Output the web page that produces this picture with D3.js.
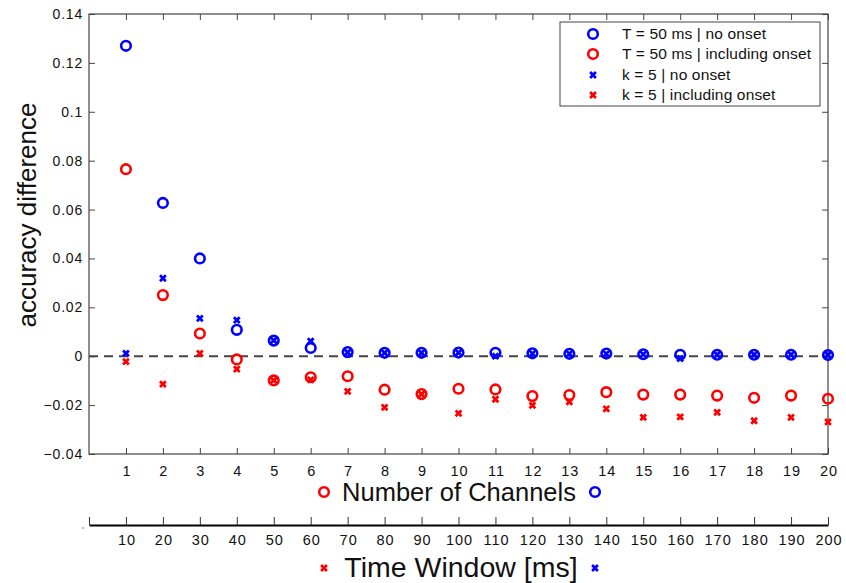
<!DOCTYPE html>
<html><head><meta charset="utf-8">
<script src="https://cdn.jsdelivr.net/npm/d3@7"></script>
<style>body{margin:0;background:#fff}svg{display:block;font-family:"Liberation Sans",Arial,sans-serif}</style>
</head><body>
<svg id="c" width="846" height="583"></svg>
<script>
const channels = d3.range(1, 21);
const timeWindows = [10,20,30,40,50,60,70,80,90,100,110,120,130,140,150,160,170,180,190,200];
const yTicks = [-0.04,-0.02,0,0.02,0.04,0.06,0.08,0.1,0.12,0.14];
const tNoOnset = [0.127,0.0627,0.0400,0.0108,0.0064,0.0034,0.0017,0.0014,0.0014,0.0015,0.0014,0.0012,0.0010,0.0011,0.0008,0.0006,0.0006,0.0006,0.0006,0.0005];
const tOnset = [0.0765,0.0250,0.0093,-0.0013,-0.0099,-0.0086,-0.0082,-0.0137,-0.0155,-0.0133,-0.0136,-0.0163,-0.0159,-0.0147,-0.0157,-0.0157,-0.0161,-0.0170,-0.0161,-0.0174];
const kNoOnset = [0.0012,0.0319,0.0155,0.0148,0.0065,0.0062,0.0016,0.0014,0.0014,0.0015,0.0000,0.0011,0.0010,0.0010,0.0008,-0.0010,0.0006,0.0006,0.0006,0.0005];
const kOnset = [-0.0022,-0.0114,0.0012,-0.0053,-0.0099,-0.0097,-0.0144,-0.0209,-0.0155,-0.0234,-0.0176,-0.0201,-0.0187,-0.0215,-0.0250,-0.0248,-0.0230,-0.0264,-0.0250,-0.0269];
const legendLabels = ["T = 50 ms | no onset","T = 50 ms | including onset","k = 5 | no onset","k = 5 | including onset"];

const svg = d3.select("#c");
const L = 89, R = 828, T = 14, B = 454;
const x = d3.scaleLinear().domain([0,20]).range([L,R]);
const y = d3.scaleLinear().domain([-0.04,0.14]).range([B,T]);
const x2 = d3.scaleLinear().domain([0,200]).range([L,R]);
const axisCol = "#444";

svg.append("rect").attr("x",L).attr("y",T).attr("width",R-L).attr("height",B-T)
  .attr("fill","none").attr("stroke",axisCol).attr("stroke-width",1.2);

svg.append("line").attr("x1",L).attr("x2",R).attr("y1",y(0)).attr("y2",y(0))
  .attr("stroke","#444").attr("stroke-width",2).attr("stroke-dasharray","9,6");

function styleAxis(g){ g.select(".domain").remove(); g.selectAll(".tick line").attr("stroke",axisCol);
  g.selectAll("text").attr("fill","#111"); }

svg.append("g").attr("transform",`translate(0,${B})`)
  .call(d3.axisBottom(x).tickValues(channels).tickFormat(d3.format("d")).tickSizeInner(-6).tickSizeOuter(0).tickPadding(12))
  .call(styleAxis).call(g=>g.selectAll("text").attr("font-size",14.5).attr("letter-spacing",1).attr("dx",0.5).attr("font-family","Liberation Sans"));
svg.append("g").attr("transform",`translate(0,${T})`)
  .call(d3.axisTop(x).tickValues(channels).tickSizeInner(-6).tickSizeOuter(0).tickFormat(""))
  .call(styleAxis);
svg.append("g").attr("transform",`translate(${L},0)`)
  .call(d3.axisLeft(y).tickValues(yTicks).tickFormat(d=>d===0?"0":d3.format("")(+d.toFixed(2)).replace("-","\u2212")).tickSizeInner(-6).tickSizeOuter(0).tickPadding(6))
  .call(styleAxis).call(g=>g.selectAll("text").attr("font-size",14).attr("letter-spacing",0.8).attr("font-family","Liberation Sans"));
svg.append("g").attr("transform",`translate(${R},0)`)
  .call(d3.axisRight(y).tickValues(yTicks).tickSizeInner(-6).tickSizeOuter(0).tickFormat(""))
  .call(styleAxis);

const A2 = 525;
const g2 = svg.append("g").attr("transform",`translate(0,${A2})`)
  .call(d3.axisBottom(x2).tickValues([0].concat(timeWindows)).tickFormat(d=>d===0?"":d).tickSizeInner(-8).tickSizeOuter(0).tickPadding(10));
g2.select(".domain").attr("stroke","#000").attr("stroke-width",2);
g2.selectAll(".tick line").attr("stroke","#333");
g2.selectAll("text").attr("font-size",14.5).attr("letter-spacing",1).attr("dx",0.5).attr("fill","#111").attr("font-family","Liberation Sans");
svg.append("circle").attr("cx",83).attr("cy",528).attr("r",0.8).attr("fill","#666");

function circles(data,col){
  svg.append("g").selectAll("circle").data(data).join("circle")
    .attr("cx",(d,i)=>x(channels[i])).attr("cy",d=>y(d)).attr("r",4.8)
    .attr("fill","none").attr("stroke",col).attr("stroke-width",2.6);
}
function crossPath(cx,cy,s){ return `M${cx-s},${cy-s}L${cx+s},${cy+s}M${cx-s},${cy+s}L${cx+s},${cy-s}`; }
function crosses(data,col){
  svg.append("g").selectAll("path").data(data).join("path")
    .attr("d",(d,i)=>crossPath(x(channels[i]),y(d),2.9))
    .attr("stroke",col).attr("stroke-width",2.8).attr("fill","none");
}
circles(tOnset,"#ff0000");
crosses(kOnset,"#ff0000");
circles(tNoOnset,"#0000ff");
crosses(kNoOnset,"#0000ff");

const lg = svg.append("g");
lg.append("rect").attr("x",560).attr("y",22).attr("width",260).attr("height",84)
  .attr("fill","#fff").attr("stroke","#444").attr("stroke-width",1);
const lcols = ["#0000ff","#ff0000","#0000ff","#ff0000"];
const lys = [34,54,75,95];
legendLabels.forEach((t,i)=>{
  if(i<2) lg.append("circle").attr("cx",593).attr("cy",lys[i]).attr("r",4.8).attr("fill","none").attr("stroke",lcols[i]).attr("stroke-width",2.6);
  else lg.append("path").attr("d",crossPath(593,lys[i],2.9)).attr("stroke",lcols[i]).attr("stroke-width",2.8);
  lg.append("text").attr("x",622).attr("y",lys[i]).attr("dy","0.35em").attr("font-size",15.5).attr("letter-spacing",0.15).attr("fill","#111").text(t);
});

svg.append("text").attr("transform","translate(36,215) rotate(-90)").attr("text-anchor","middle")
  .attr("font-size",26).attr("fill","#111").text("accuracy difference");
svg.append("text").attr("x",459).attr("y",501).attr("text-anchor","middle").attr("font-size",25.5).attr("fill","#111").text("Number of Channels");
svg.append("circle").attr("cx",324).attr("cy",492).attr("r",4.8).attr("fill","none").attr("stroke","#ff0000").attr("stroke-width",2.6);
svg.append("circle").attr("cx",595).attr("cy",492).attr("r",4.8).attr("fill","none").attr("stroke","#0000ff").attr("stroke-width",2.6);
svg.append("text").attr("x",461).attr("y",577).attr("text-anchor","middle").attr("font-size",28.5).attr("fill","#111").text("Time Window [ms]");
svg.append("path").attr("d",crossPath(324,568,2.9)).attr("stroke","#ff0000").attr("stroke-width",2.8);
svg.append("path").attr("d",crossPath(595,568,2.9)).attr("stroke","#0000ff").attr("stroke-width",2.8);
</script>
</body></html>
